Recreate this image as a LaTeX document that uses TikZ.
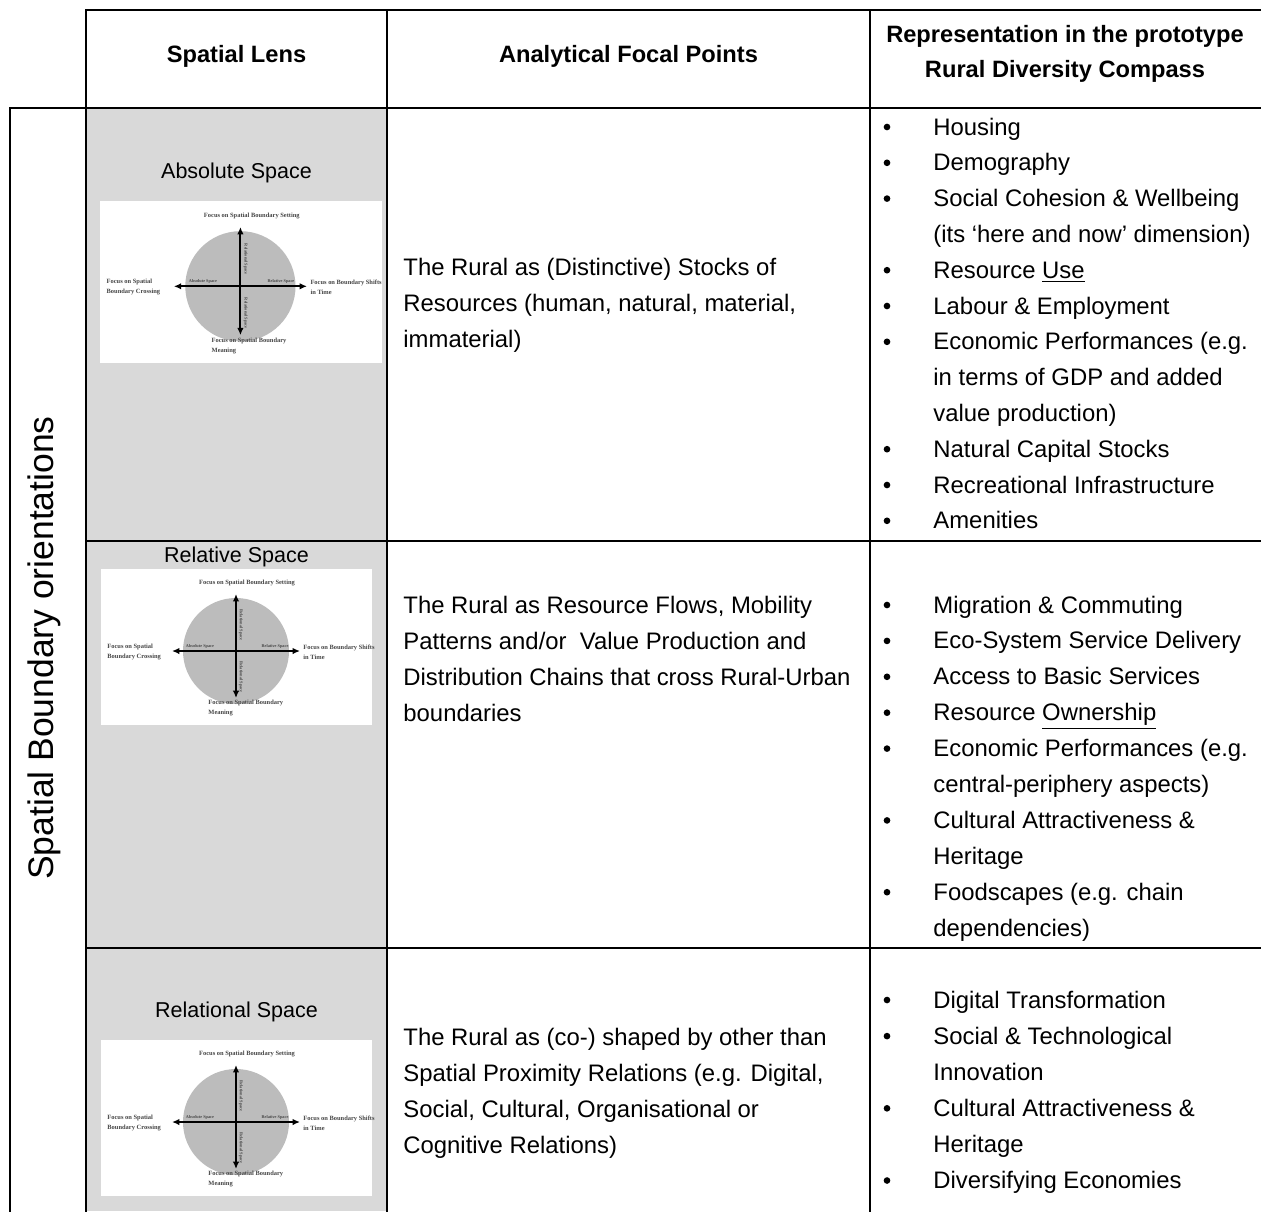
\documentclass[tikz,border=0pt]{standalone}
\usepackage{fontspec}
\setmainfont{Liberation Sans}
\newfontfamily\figfont{Liberation Serif}
\usetikzlibrary{arrows.meta}

\definecolor{cellgrey}{RGB}{217,217,217}
\definecolor{discgrey}{RGB}{188,188,188}
\definecolor{figtext}{RGB}{70,70,70}

\tikzset{
  rule/.style={line width=1.3pt, line cap=rect},
  body/.style={font=\fontsize{11.1}{13}\selectfont, anchor=base west, inner sep=0pt},
  bulletdot/.style={circle, fill=black, inner sep=0pt, minimum size=3.1pt},
  head/.style={font=\bfseries\fontsize{11}{13}\selectfont, anchor=base, inner sep=0pt},
  lenslbl/.style={font=\fontsize{10}{12}\selectfont, anchor=base, inner sep=0pt},
  tinylbl/.style={font=\figfont\bfseries\fontsize{3}{4.6}\selectfont, text=figtext, inner sep=0pt},
  axislbl/.style={font=\figfont\bfseries\fontsize{2}{2.4}\selectfont, text=figtext, inner sep=0pt},
  axis/.style={line width=0.9pt, {Latex[length=3.4pt,width=3pt]}-{Latex[length=3.4pt,width=3pt]}},
}

% The small boundary-orientation compass, drawn in a 271 x 156 frame
\newcommand\compassfig[1]{%
  \fill[white] (0,0) rectangle (271,156);
  \fill[discgrey] (135,82) circle[radius=53];
  \coordinate (#1-w) at (71,82);
  \coordinate (#1-e) at (199,82);
  \coordinate (#1-n) at (135,25);
  \coordinate (#1-s) at (135,129);
  \draw[axis] (#1-w) -- (#1-e);
  \draw[axis] (#1-n) -- (#1-s);
  \node[tinylbl] (#1-top) at (146,14) {Focus on Spatial Boundary Setting};
  \node[tinylbl, anchor=west, align=left] (#1-left) at (6,83) {Focus on Spatial\\Boundary Crossing};
  \node[tinylbl, anchor=west, align=left] (#1-right) at (202,83) {Focus on Boundary Shifts\\in Time};
  \node[tinylbl, anchor=north west, align=left] (#1-bottom) at (107,131) {Focus on Spatial Boundary\\Meaning};
  \node[axislbl, anchor=south] (#1-ax-w) at (99,80) {Absolute Space};
  \node[axislbl, anchor=south] (#1-ax-e) at (174,80) {Relative Space};
  \node[axislbl, rotate=-90] (#1-ax-n) at (140,56) {Relational Space};
  \node[axislbl, rotate=-90] (#1-ax-s) at (140,108) {Relational Space};
}

\begin{document}
\begin{tikzpicture}[x=0.465pt, y=-0.465pt]
\useasboundingbox (0,0) rectangle (1261,1211);
\fill[white] (0,0) rectangle (1261,1211);

% shaded "Spatial Lens" column
\fill[cellgrey] (86,108) rectangle (387,1211);

% compass figures
\begin{scope}[shift={(100,201)}, scale=1.04]
  \compassfig{cA}
\end{scope}
\begin{scope}[shift={(101,569)}]
  \compassfig{cB}
\end{scope}
\begin{scope}[shift={(101,1040)}]
  \compassfig{cC}
\end{scope}

% table rules
\draw[rule] (86,10) -- (1261,10);
\draw[rule] (10,108) -- (1261,108);
\draw[rule] (86,541) -- (1261,541);
\draw[rule] (86,948) -- (1261,948);
\draw[rule] (10,108) -- (10,1211);
\draw[rule] (86,10) -- (86,1211);
\draw[rule] (387,10) -- (387,1211);
\draw[rule] (870,10) -- (870,1211);

% header
\node[head] (h-lens) at (236.5,62) {Spatial Lens};
\node[head] (h-focal) at (628.5,62) {Analytical Focal Points};
\node[head] (h-repr1) at (1065,42) {Representation in the prototype};
\node[head] (h-repr2) at (1065,77) {Rural Diversity Compass};

% side label
\node[rotate=90, anchor=base, inner sep=0pt, font=\fontsize{16.5}{20}\selectfont] (orient) at (54,648) {Spatial Boundary orientations};

% lens labels
\node[lenslbl] (lens-a) at (236.5,178) {Absolute Space};
\node[lenslbl] (lens-b) at (236.5,562) {Relative Space};
\node[lenslbl] (lens-c) at (236.5,1017) {Relational Space};

% focal points
\node[body] (fa1) at (403,275) {The Rural as (Distinctive) Stocks of};
\node[body] (fa2) at (403,311) {Resources (human, natural, material,};
\node[body] (fa3) at (403,347) {immaterial)};

\node[body] (fb1) at (403,613) {The Rural as Resource Flows, Mobility};
\node[body] (fb2) at (403,649) {Patterns and/or~ Value Production and};
\node[body] (fb3) at (403,685) {Distribution Chains that cross Rural-Urban};
\node[body] (fb4) at (403,721) {boundaries};

\node[body] (fc1) at (403,1045) {The Rural as (co-) shaped by other than};
\node[body] (fc2) at (403,1081) {Spatial Proximity Relations (e.g. Digital,};
\node[body] (fc3) at (403,1117) {Social, Cultural, Organisational or};
\node[body] (fc4) at (403,1153) {Cognitive Relations)};

% representation, first row
\foreach \yy/\bb/\tt [count=\k] in {
  135/1/{Housing},
  170.8/1/{Demography},
  206.6/1/{Social Cohesion \& Wellbeing},
  242.4/0/{(its ‘here and now’ dimension)},
  278.2/1/{Resource \underline{Use}},
  314/1/{Labour \& Employment},
  349.8/1/{Economic Performances (e.g.},
  385.6/0/{in terms of GDP and added},
  421.4/0/{value production)},
  457.2/1/{Natural Capital Stocks},
  493/1/{Recreational Infrastructure},
  528.8/1/{Amenities}}{
  \node[body] (ra-\k) at (933,\yy) {\tt};
  \ifnum\bb=1 \node[bulletdot] (ra-b\k) at (887,\yy-8) {}; \fi
}

% representation, second row
\foreach \yy/\bb/\tt [count=\k] in {
  613/1/{Migration \& Commuting},
  648.9/1/{Eco-System Service Delivery},
  684.8/1/{Access to Basic Services},
  720.7/1/{Resource \underline{Ownership}},
  756.6/1/{Economic Performances (e.g.},
  792.5/0/{central-periphery aspects)},
  828.4/1/{Cultural Attractiveness \&},
  864.3/0/{Heritage},
  900.2/1/{Foodscapes (e.g. chain},
  936.1/0/{dependencies)}}{
  \node[body] (rb-\k) at (933,\yy) {\tt};
  \ifnum\bb=1 \node[bulletdot] (rb-b\k) at (887,\yy-8) {}; \fi
}

% representation, third row
\foreach \yy/\bb/\tt [count=\k] in {
  1008/1/{Digital Transformation},
  1044.1/1/{Social \& Technological},
  1080.2/0/{Innovation},
  1116.3/1/{Cultural Attractiveness \&},
  1152.4/0/{Heritage},
  1188.5/1/{Diversifying Economies}}{
  \node[body] (rc-\k) at (933,\yy) {\tt};
  \ifnum\bb=1 \node[bulletdot] (rc-b\k) at (887,\yy-8) {}; \fi
}
\end{tikzpicture}
\end{document}
